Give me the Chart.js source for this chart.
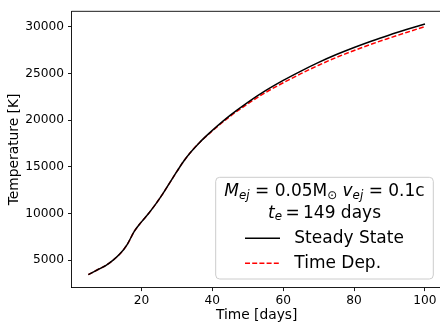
<!DOCTYPE html>
<html>
<head>
<meta charset="utf-8">
<script src="https://cdn.jsdelivr.net/npm/chart.js@4/dist/chart.umd.min.js"></script>
<style>
    html, body { margin: 0; padding: 0; background: #fff; overflow: hidden; }
    #wrap { width: 446px; height: 324px; position: relative; }
</style>
</head>
<body>
<div id="wrap"><canvas id="chart"></canvas></div>
<script>
/* Temperature evolution, steady state vs time dependent */

const days = [5, 8, 10, 12, 14, 16, 18, 20, 22, 24, 26, 28, 30, 32, 34, 36, 38, 40,
    45, 50, 55, 60, 65, 70, 75, 80, 85, 90, 95, 100];
const steadyState = [3450, 4050, 4450, 5000, 5700, 6700, 8100, 9100, 10000, 11000,
    12100, 13300, 14500, 15650, 16600, 17450, 18200, 18900, 20500, 21900, 23150, 24250,
    25250, 26180, 27020, 27780, 28480, 29120, 29720, 30300];
const timeDep = [3450, 4050, 4450, 5000, 5700, 6700, 8100, 9100, 10000, 11000,
    12100, 13300, 14500, 15650, 16600, 17450, 18180, 18850, 20400, 21750, 22950, 24000,
    24970, 25880, 26710, 27450, 28150, 28790, 29410, 30020];
const xTicks = [20, 40, 60, 80, 100];
const yTicks = [5000, 10000, 15000, 20000, 25000, 30000];

const FONT = 'DejaVu Sans';
Chart.defaults.font.family = FONT;
Chart.defaults.color = '#000';

function points(ys) {
    return days.map((d, i) => ({x: d, y: ys[i]}));
}

/* draw a run of text pieces, each with its own style and baseline shift */
function drawRuns(ctx, runs, cx, cy, size) {
    let total = 0;
    runs.forEach(r => {
        ctx.font = (r.italic ? 'italic ' : '') + (size * (r.scale || 1)) + 'px "' + FONT + '"';
        r.w = ctx.measureText(r.t).width;
        total += r.w;
    });
    let x = cx - total / 2;
    runs.forEach(r => {
        ctx.font = (r.italic ? 'italic ' : '') + (size * (r.scale || 1)) + 'px "' + FONT + '"';
        ctx.fillText(r.t, x, cy + (r.dy || 0) * size);
        x += r.w;
    });
}

const frameAndLegend = {
    id: 'frameAndLegend',
    afterDatasetsDraw(chart) {
        const ctx = chart.ctx;
        const a = chart.chartArea;
        ctx.save();
        // top and right spines
        ctx.strokeStyle = '#000';
        ctx.lineWidth = 0.9;
        ctx.beginPath();
        ctx.moveTo(a.left, a.top);
        ctx.lineTo(a.right, a.top);
        ctx.lineTo(a.right, a.bottom);
        ctx.stroke();

        // legend box
        const bx = 215.7, by = 177.3, bw = 217.6, bh = 101.7, r = 4;
        ctx.beginPath();
        ctx.roundRect(bx, by, bw, bh, r);
        ctx.fillStyle = 'rgba(255,255,255,0.8)';
        ctx.fill();
        ctx.strokeStyle = '#cccccc';
        ctx.lineWidth = 1;
        ctx.stroke();

        const size = 17;
        const cx = bx + bw / 2;
        ctx.fillStyle = '#000';
        ctx.textBaseline = 'middle';
        ctx.textAlign = 'left';
        drawRuns(ctx, [
            {t: 'M', italic: true},
            {t: 'ej', italic: true, scale: 0.7, dy: 0.22},
            {t: ' = 0.05M'},
            {t: '\u2299', scale: 0.7, dy: 0.22},
            {t: ' '},
            {t: 'v', italic: true},
            {t: 'ej', italic: true, scale: 0.7, dy: 0.22},
            {t: ' = 0.1c'}
        ], cx, 191.7, size);
        drawRuns(ctx, [
            {t: 't', italic: true},
            {t: 'e', italic: true, scale: 0.7, dy: 0.22},
            {t: '\u2009=\u2009149 days'}
        ], cx, 213.3, size);

        // entries
        const rows = [238.3, 263.3];
        chart.data.datasets.forEach((ds, i) => {
            const y = rows[i];
            ctx.strokeStyle = ds.borderColor;
            ctx.lineWidth = ds.borderWidth;
            ctx.setLineDash(ds.borderDash || []);
            ctx.beginPath();
            ctx.moveTo(245, y);
            ctx.lineTo(280, y);
            ctx.stroke();
            ctx.setLineDash([]);
            ctx.font = size + 'px "' + FONT + '"';
            ctx.fillText(ds.label, 294.3, y);
        });
        ctx.restore();
    }
};

const ctx = document.getElementById('chart');
new Chart(ctx, {
    type: 'line',
    data: {
        datasets: [
            {
                label: 'Steady State',
                data: points(steadyState),
                borderColor: '#000000',
                borderWidth: 1.5,
                pointRadius: 0,
                cubicInterpolationMode: 'monotone',
                fill: false
            },
            {
                label: 'Time Dep.',
                data: points(timeDep),
                borderColor: '#ff0000',
                borderWidth: 1.5,
                borderDash: [5, 2.2],
                pointRadius: 0,
                cubicInterpolationMode: 'monotone',
                fill: false
            }
        ]
    },
    options: {
        responsive: true,
        maintainAspectRatio: false,
        animation: false,
        events: [],
        layout: {padding: {top: 6.7, right: 4.2, bottom: 0, left: 0}},
        plugins: {
            legend: {display: false},
            tooltip: {enabled: false}
        },
        scales: {
            x: {
                type: 'linear',
                min: 0.25,
                max: 104.75,
                afterBuildTicks: s => { s.ticks = xTicks.map(v => ({value: v})); },
                afterFit: s => { s.height = 36.4; },
                grid: {drawOnChartArea: false, color: '#000', tickLength: 3.5, tickWidth: 0.9},
                border: {color: '#000', width: 0.9},
                ticks: {font: {size: 12.2}, padding: 2, maxRotation: 0, callback: v => String(v)},
                title: {display: true, text: 'Time [days]', font: {size: 13.8, lineHeight: 1},
                    padding: {top: 0, bottom: 1.5}}
            },
            y: {
                type: 'linear',
                min: 2060,
                max: 31650,
                afterBuildTicks: s => { s.ticks = yTicks.map(v => ({value: v})); },
                afterFit: s => { s.width = 71.5; },
                grid: {drawOnChartArea: false, color: '#000', tickLength: 3.5, tickWidth: 0.9},
                border: {color: '#000', width: 0.9},
                ticks: {font: {size: 12.2}, padding: 4, callback: v => String(v)},
                title: {display: true, text: 'Temperature [K]', font: {size: 13.8, lineHeight: 1},
                    padding: {top: 7.5, bottom: 0}}
            }
        }
    },
    plugins: [frameAndLegend]
});
</script>
</body>
</html>
